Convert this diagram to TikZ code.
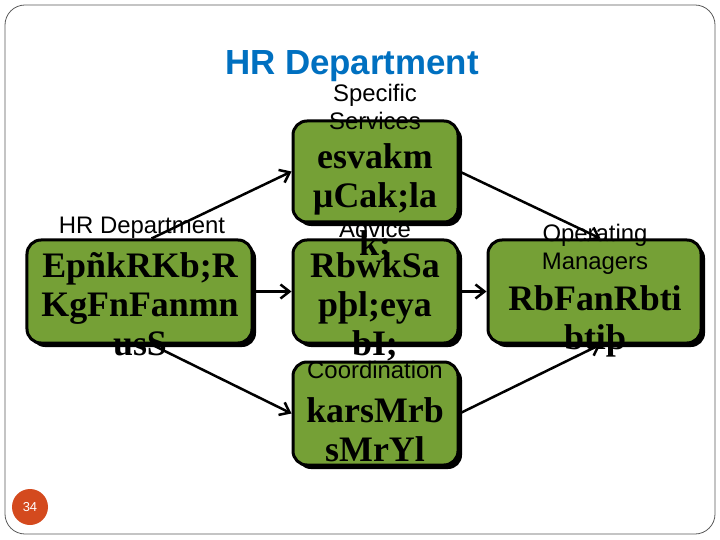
\documentclass[tikz,border=0pt]{standalone}
\usepackage{fontspec}
\setmainfont{Liberation Sans}
\newfontfamily\khfont{Liberation Serif}
\usetikzlibrary{arrows.meta, shadows}
\definecolor{titleblue}{RGB}{0,112,192}
\definecolor{boxgreen}{RGB}{117,160,54}
\definecolor{numorange}{RGB}{212,74,30}

\tikzset{
  box/.style={draw=black, line width=3bp, fill=boxgreen, rounded corners=14bp, inner sep=0pt,
    drop shadow={shadow xshift=4bp, shadow yshift=-4bp, fill=black, opacity=1}},
  lbl/.style={font=\fontsize{24}{28}\selectfont, align=center, inner sep=0pt},
  kh/.style={font=\khfont\bfseries\fontsize{36}{39}\selectfont, align=center, inner sep=0pt},
  arr/.style={line width=2.5bp, -{Straight Barb[length=9bp,width=14bp]}}
}

\begin{document}
\begin{tikzpicture}[x=1bp,y=-1bp]
  \useasboundingbox (0,0) rectangle (720,540);
  % slide frame and title
  \draw[gray!70!black, line width=0.8bp, rounded corners=20bp] (5,5) rectangle (715,534);
  \node[font=\bfseries\fontsize{35}{40}\selectfont, text=titleblue] (title) at (352,66) {HR Department};
  \node[lbl] (advlbl) at (375,229) {Advice};
  % boxes
  \node[box, minimum width=225bp, minimum height=103bp] (lft) at (139.5,291.5) {};
  \node[box, minimum width=165bp, minimum height=101bp] (top) at (375.5,171.5) {};
  \node[box, minimum width=165bp, minimum height=103bp] (mid) at (375.5,291.5) {};
  \node[box, minimum width=165bp, minimum height=103bp] (bot) at (375.5,413.5) {};
  \node[box, minimum width=213bp, minimum height=103bp] (rgt) at (594.5,291.5) {};
  % texts
  \node[lbl] (lftlbl) at (142,228) {HR Department};
  \node[kh] (lfttxt) at (140,304) {EpñkRKb;R\\KgFnFanmn\\usS};
  \node[lbl] (toplbl) at (375,107) {Specific\\Services};
  \node[kh] (toptxt) at (375,179) {esvakm\\µCak;la};
  \node[kh] (advk) at (375,246) {k;};
  \node[kh] (midtxt) at (375,307) {RbwkSa\\pþl;eya\\bI;};
  \node[lbl] (botlbl) at (375,370) {Coordination};
  \node[kh] (bottxt) at (375,430) {karsMrb\\sMrYl};
  \node[lbl] (rgtlbl) at (595,249) {Operating\\Managers};
  \node[kh] (rgttxt) at (595,321) {RbFanRbti\\btiþ};
  % arrows
  \draw[arr] ([xshift=12bp]lft.north) -- (top.west);
  \draw[arr] (lft.east) -- (mid.west);
  \draw[arr] ([xshift=12bp]lft.south) -- (bot.west);
  \draw[arr] (top.east) -- ([xshift=6bp]rgt.north);
  \draw[arr] (mid.east) -- (rgt.west);
  \draw[arr] (bot.east) -- ([xshift=6bp]rgt.south);
  % slide number
  \node[circle, fill=numorange, minimum size=36bp, inner sep=0pt, text=white,
    font=\fontsize{13}{15}\selectfont] (num) at (30,507) {34};
\end{tikzpicture}
\end{document}
